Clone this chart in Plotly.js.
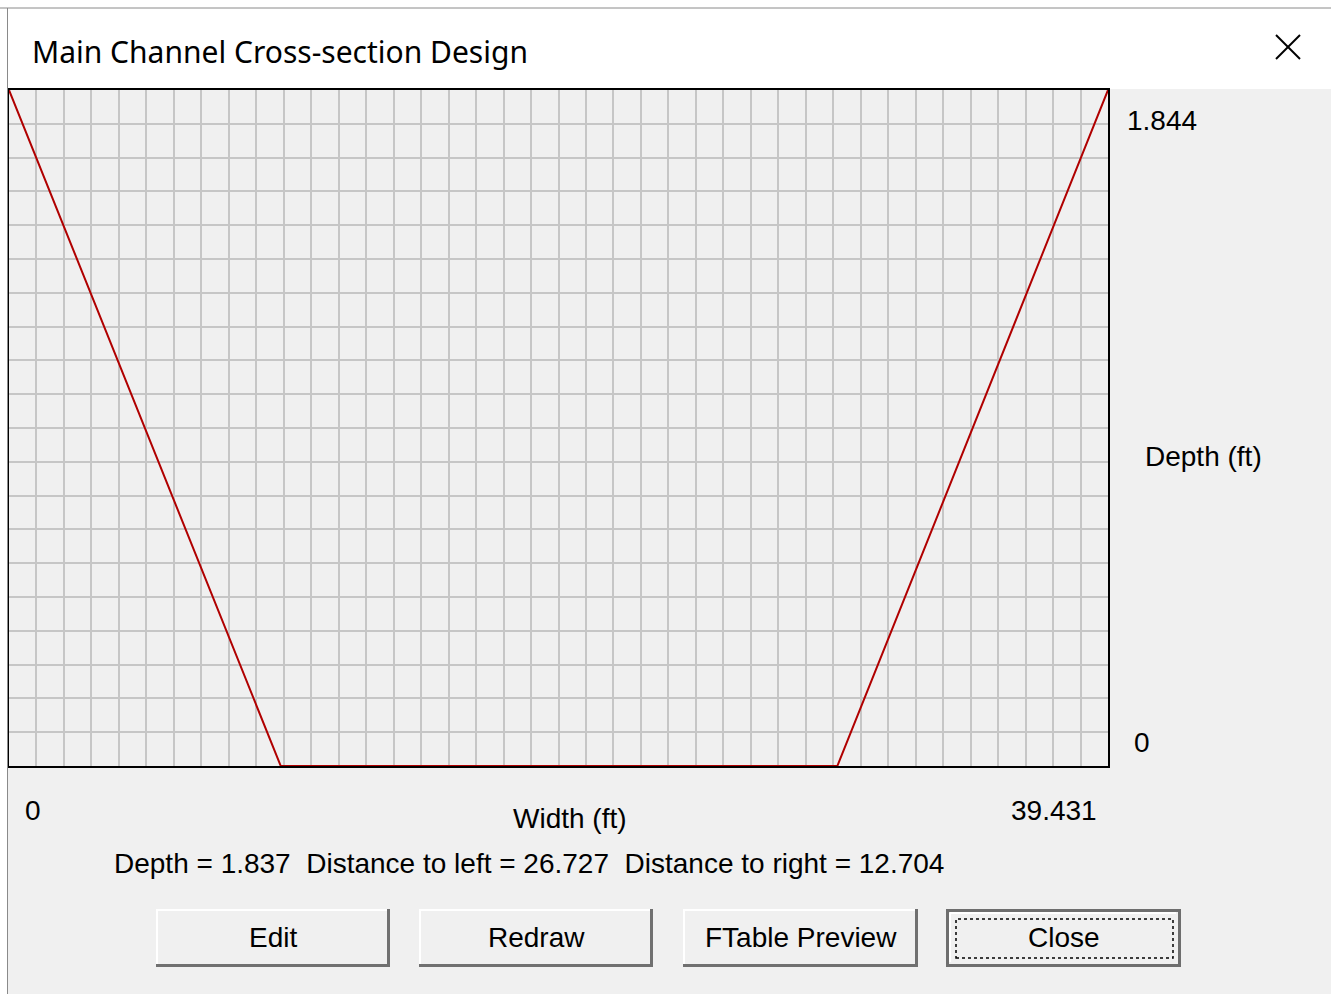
<!DOCTYPE html>
<html>
<head>
<meta charset="utf-8">
<script src="https://cdn.plot.ly/plotly-3.0.1.min.js"></script>
<style>
html,body{margin:0;padding:0;background:#ffffff;}
#chart{width:1331px;height:994px;}
</style>
</head>
<body>
<div id="chart"></div>
<script>
// ---- data ----
const widthFt = [0, 9.75, 29.72, 39.431];
const depthFt = [1.844, 0, 0, 1.844];
const xMax = 39.431;
const yMax = 1.844;
const xTickLabels = ['0', '39.431'];
const yTickLabels = ['1.844', '0'];
const gridCols = 40;
const gridRows = 20;
const infoDepth = '1.837';
const infoLeft = '26.727';
const infoRight = '12.704';
const buttonLabels = ['Edit', 'Redraw', 'FTable Preview', 'Close'];
const windowTitle = 'Main Channel Cross-section Design';

// ---- layout helpers (pixel -> paper) ----
const W = 1331, H = 994;
const px = x => x / W;
const py = y => 1 - y / H;
const uiFont = '"Liberation Sans", Arial, sans-serif';

const plotL = 9, plotR = 1108, plotT = 90, plotB = 766;

const shapes = [];
const annotations = [];

// window body (gray) and title bar (white)
shapes.push({type:'rect', xref:'paper', yref:'paper', layer:'below',
  x0:px(7), x1:px(1331), y0:py(994), y1:py(89), fillcolor:'#f0f0f0', line:{width:0}});
shapes.push({type:'rect', xref:'paper', yref:'paper', layer:'below',
  x0:px(7), x1:px(1331), y0:py(89), y1:py(8), fillcolor:'#ffffff', line:{width:0}});
// window border lines
shapes.push({type:'line', xref:'paper', yref:'paper', x0:px(0), x1:px(1331), y0:py(8), y1:py(8), line:{color:'#8a8a8a', width:1}});
shapes.push({type:'line', xref:'paper', yref:'paper', x0:px(7.5), x1:px(7.5), y0:py(8), y1:py(994), line:{color:'#8a8a8a', width:1}});
// close "X"
shapes.push({type:'line', xref:'paper', yref:'paper', x0:px(1276), x1:px(1300), y0:py(35), y1:py(59), line:{color:'#000', width:2}});
shapes.push({type:'line', xref:'paper', yref:'paper', x0:px(1276), x1:px(1300), y0:py(59), y1:py(35), line:{color:'#000', width:2}});

annotations.push({xref:'paper', yref:'paper', x:px(30), y:py(51), xanchor:'left', yanchor:'middle',
  text:windowTitle, showarrow:false, font:{family:'"Noto Sans", "Open Sans", sans-serif', size:30, color:'#000'}});

// axis labels (as drawn by the dialog)
const lblFont = {family:uiFont, size:28, color:'#000'};
annotations.push({xref:'paper', yref:'paper', x:px(33), y:py(810), xanchor:'center', yanchor:'middle', text:xTickLabels[0], showarrow:false, font:lblFont});
annotations.push({xref:'paper', yref:'paper', x:px(1099), y:py(810), xanchor:'right', yanchor:'middle', text:xTickLabels[1], showarrow:false, font:lblFont});
annotations.push({xref:'paper', yref:'paper', x:px(570), y:py(818), xanchor:'center', yanchor:'middle', text:'Width (ft)', showarrow:false, font:lblFont});
annotations.push({xref:'paper', yref:'paper', x:px(1125), y:py(120), xanchor:'left', yanchor:'middle', text:yTickLabels[0], showarrow:false, font:lblFont});
annotations.push({xref:'paper', yref:'paper', x:px(1132), y:py(742), xanchor:'left', yanchor:'middle', text:yTickLabels[1], showarrow:false, font:lblFont});
annotations.push({xref:'paper', yref:'paper', x:px(1143), y:py(457), xanchor:'left', yanchor:'middle', text:'Depth (ft)', showarrow:false, font:lblFont});
annotations.push({xref:'paper', yref:'paper', x:px(529), y:py(863), xanchor:'center', yanchor:'middle',
  text:'Depth = ' + infoDepth + '&nbsp;&nbsp;Distance to left = ' + infoLeft + '&nbsp;&nbsp;Distance to right = ' + infoRight,
  showarrow:false, font:lblFont});

// buttons
const btnBoxes = [[156,390],[419,653],[683,918],[946,1181]];
const bT = 909, bB = 967;
buttonLabels.forEach((lab, i) => {
  const [l, r] = btnBoxes[i];
  const isDefault = i === buttonLabels.length - 1;
  shapes.push({type:'rect', xref:'paper', yref:'paper', x0:px(l), x1:px(r), y0:py(bB), y1:py(bT),
    fillcolor:'#f0f0f0', line:{width:0}});
  if (isDefault) {
    shapes.push({type:'rect', xref:'paper', yref:'paper', x0:px(l+1.5), x1:px(r-1.5), y0:py(bB-1.5), y1:py(bT+1.5),
      line:{color:'#6e6e6e', width:3}, fillcolor:'rgba(0,0,0,0)'});
    shapes.push({type:'line', xref:'paper', yref:'paper', x0:px(l+4), x1:px(r-5), y0:py(bT+4), y1:py(bT+4), line:{color:'#ffffff', width:2}});
    shapes.push({type:'line', xref:'paper', yref:'paper', x0:px(l+4), x1:px(l+4), y0:py(bT+4), y1:py(bB-5), line:{color:'#ffffff', width:2}});
    shapes.push({type:'rect', xref:'paper', yref:'paper', x0:px(l+10), x1:px(r-8), y0:py(bB-9), y1:py(bT+10),
      line:{color:'#000', width:1.5, dash:'dot'}, fillcolor:'rgba(0,0,0,0)'});
  } else {
    shapes.push({type:'line', xref:'paper', yref:'paper', x0:px(l), x1:px(r-2), y0:py(bT+1), y1:py(bT+1), line:{color:'#ffffff', width:2}});
    shapes.push({type:'line', xref:'paper', yref:'paper', x0:px(l+1), x1:px(l+1), y0:py(bT), y1:py(bB-2), line:{color:'#ffffff', width:2}});
    shapes.push({type:'line', xref:'paper', yref:'paper', x0:px(l), x1:px(r), y0:py(bB-1.5), y1:py(bB-1.5), line:{color:'#707070', width:3}});
    shapes.push({type:'line', xref:'paper', yref:'paper', x0:px(r-1.5), x1:px(r-1.5), y0:py(bT), y1:py(bB), line:{color:'#707070', width:3}});
  }
  annotations.push({xref:'paper', yref:'paper', x:px((l+r)/2), y:py(937), xanchor:'center', yanchor:'middle',
    text:lab, showarrow:false, font:lblFont});
});

const trace = {
  x: widthFt, y: depthFt, type:'scatter', mode:'lines',
  line:{color:'#b00000', width:2}, hoverinfo:'skip', cliponaxis:false
};

const layout = {
  width: W, height: H,
  margin:{l:0, r:0, t:0, b:0, pad:0},
  paper_bgcolor:'#ffffff',
  plot_bgcolor:'#ffffff',
  showlegend:false,
  xaxis:{
    domain:[px(plotL), px(plotR)], range:[0, xMax], autorange:false,
    tick0:0, dtick:xMax/gridCols, showticklabels:false, ticks:'',
    showgrid:true, gridcolor:'#c6c6c6', gridwidth:2, zeroline:false, layer:'below traces',
    showline:true, mirror:true, linecolor:'#000', linewidth:2, fixedrange:true
  },
  yaxis:{
    domain:[py(plotB), py(plotT)], range:[0, yMax], autorange:false,
    tick0:0, dtick:yMax/gridRows, showticklabels:false, ticks:'',
    showgrid:true, gridcolor:'#c6c6c6', gridwidth:2, zeroline:false, layer:'below traces',
    showline:true, mirror:true, linecolor:'#000', linewidth:2, fixedrange:true
  },
  shapes: shapes,
  annotations: annotations
};

Plotly.newPlot('chart', [trace], layout, {displayModeBar:false, staticPlot:true});
</script>
</body>
</html>
